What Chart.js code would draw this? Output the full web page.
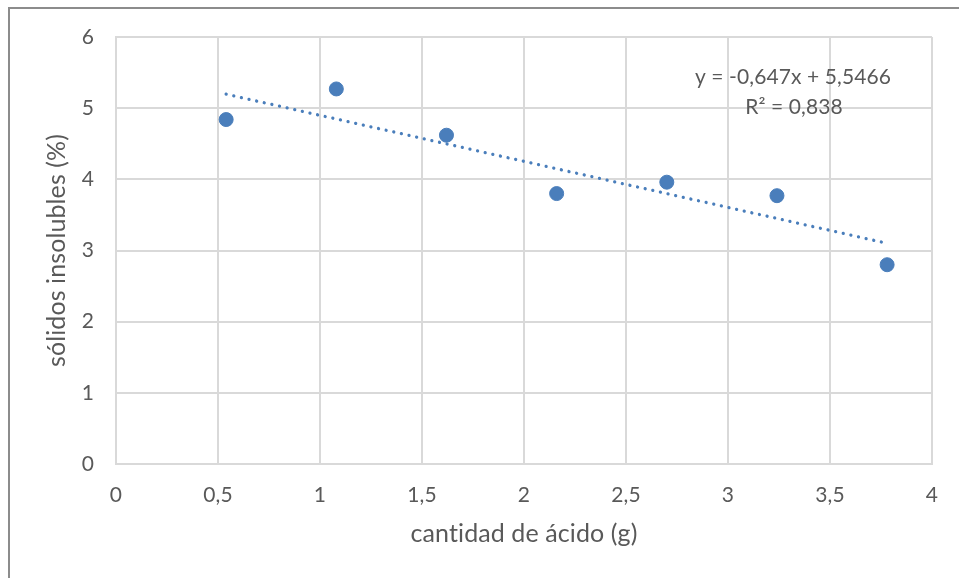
<!DOCTYPE html>
<html>
<head>
<meta charset="utf-8">
<script src="https://cdn.jsdelivr.net/npm/chart.js@4"></script>
<style>
  html, body { margin: 0; padding: 0; background: #ffffff; overflow: hidden; }
  #frame { position: absolute; left: 8px; top: 7px; width: 2000px; height: 2000px;
           border-left: 2px solid #8c8c8c; border-top: 2px solid #8c8c8c; box-sizing: border-box; }
  #wrap { position: absolute; left: 0; top: 0; width: 959px; height: 578px; }
</style>
</head>
<body>
<div id="frame"></div>
<div id="wrap"><canvas id="c" width="959" height="578"></canvas></div>
<script>
// ---- data ----
const xValues = [0.54, 1.08, 1.62, 2.16, 2.70, 3.24, 3.78];
const yValues = [4.84, 5.27, 4.62, 3.80, 3.96, 3.77, 2.80];
const trendX = [0.54, 3.78];
const trendY = [5.197, 3.101];
const xTickLabels = ['0', '0,5', '1', '1,5', '2', '2,5', '3', '3,5', '4'];
const yTickLabels = ['0', '1', '2', '3', '4', '5', '6'];
const xTitle = 'cantidad de ácido (g)';
const yTitle = 'sólidos insolubles (%)';
const equationLines = ['y = -0,647x + 5,5466', 'R² = 0,838'];

// ---- styles ----
const FONT = 'Lato';
const TEXT = '#595959';
const GRID = '#d9d9d9';
const BLUE = '#4a7ebb';

const points = xValues.map((x, i) => ({ x: x, y: yValues[i] }));
const trend = trendX.map((x, i) => ({ x: x, y: trendY[i] }));

const noLigatures = {
  id: 'noLigatures',
  beforeLayout(chart) { chart.ctx.letterSpacing = '0.1px'; },
  beforeDraw(chart) { chart.ctx.letterSpacing = '0.1px'; }
};

const equationPlugin = {
  id: 'equation',
  afterDatasetsDraw(chart) {
    const ctx = chart.ctx;
    ctx.save();
    ctx.font = '21px ' + FONT;
    ctx.fillStyle = TEXT;
    ctx.textAlign = 'center';
    ctx.textBaseline = 'middle';
    ctx.fillText(equationLines[0], 793, 77.5);
    ctx.fillText(equationLines[1], 794, 107.5);
    ctx.restore();
  }
};

new Chart(document.getElementById('c'), {
  type: 'scatter',
  data: {
    datasets: [
      {
        label: 'trend',
        data: trend,
        showLine: true,
        borderColor: BLUE,
        borderWidth: 3.3,
        borderDash: [0.01, 7.8],
        borderCapStyle: 'round',
        pointRadius: 0,
        pointHoverRadius: 0,
        fill: false,
        order: 0
      },
      {
        label: 'data',
        data: points,
        backgroundColor: BLUE,
        borderColor: BLUE,
        borderWidth: 1,
        pointRadius: 7,
        pointHoverRadius: 7,
        order: 1
      }
    ]
  },
  options: {
    responsive: false,
    animation: false,
    devicePixelRatio: 1,
    events: [],
    layout: { padding: { top: 37, right: 27, left: 0, bottom: 0 } },
    plugins: { legend: { display: false }, tooltip: { enabled: false } },
    scales: {
      x: {
        type: 'linear',
        min: 0, max: 4,
        afterFit(scale) { scale.height = 114; },
        grid: { color: GRID, lineWidth: 2, drawTicks: false },
        border: { color: GRID, width: 2 },
        ticks: {
          stepSize: 0.5,
          padding: 19,
          color: TEXT,
          font: { family: FONT, size: 21 },
          callback: (v, i) => xTickLabels[i]
        },
        title: {
          display: true,
          text: xTitle,
          color: TEXT,
          font: { family: FONT, size: 25 },
          padding: { top: 0, bottom: 29 }
        }
      },
      y: {
        type: 'linear',
        min: 0, max: 6,
        afterFit(scale) { scale.width = 116; },
        grid: { color: GRID, lineWidth: 2, drawTicks: false },
        border: { color: GRID, width: 2 },
        ticks: {
          stepSize: 1,
          padding: 22,
          color: TEXT,
          font: { family: FONT, size: 21 },
          callback: (v, i) => yTickLabels[i]
        },
        title: {
          display: true,
          text: yTitle,
          color: TEXT,
          font: { family: FONT, size: 25 },
          padding: { top: 42, bottom: 0 }
        }
      }
    }
  },
  plugins: [noLigatures, equationPlugin]
});
</script>
</body>
</html>
